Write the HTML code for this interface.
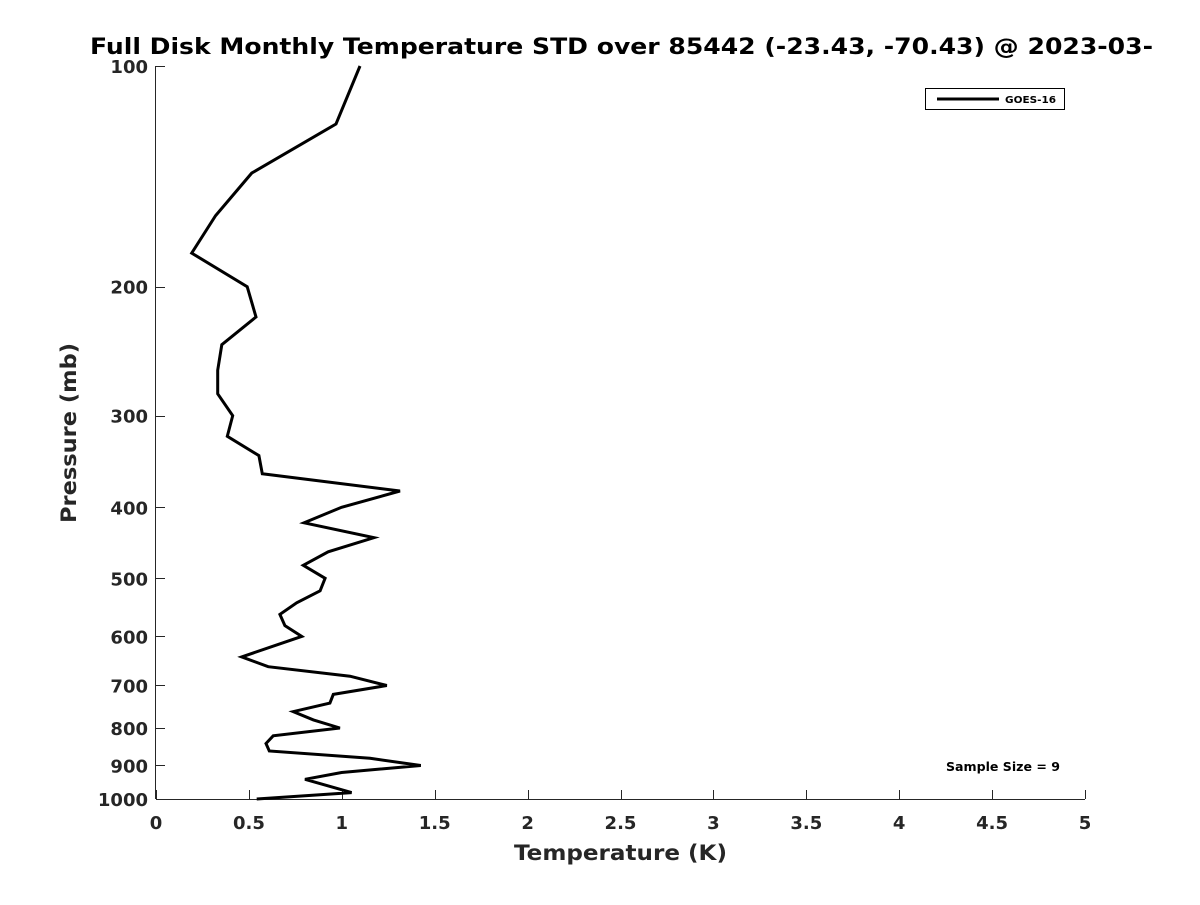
<!DOCTYPE html>
<html><head><meta charset="utf-8"><style>
body{margin:0;background:#fff;}
svg text{font-family:"DejaVu Sans","Liberation Sans",sans-serif;font-weight:bold;fill:#262626;}
</style></head><body>
<svg id="chart" width="1200" height="900" xmlns="http://www.w3.org/2000/svg">
<rect width="1200" height="900" fill="#fff"/>
<text x="90" y="54" textLength="1063" lengthAdjust="spacingAndGlyphs" font-size="22" style="fill:#000">Full Disk Monthly Temperature STD over 85442 (-23.43, -70.43) @ 2023-03-</text>
<g id="axes"></g>
<polyline id="series" fill="none" stroke="#000" stroke-width="3" stroke-linejoin="miter"/>
<g>
<rect x="925.5" y="88.5" width="139" height="21" fill="#fff" stroke="#000" stroke-width="1"/>
<line x1="937" y1="99" x2="999" y2="99" stroke="#000" stroke-width="3"/>
<text x="1005" y="103" textLength="51" lengthAdjust="spacingAndGlyphs" font-size="10" style="fill:#000">GOES-16</text>
</g>
<text x="946" y="771" textLength="114" lengthAdjust="spacingAndGlyphs" font-size="12" style="fill:#000">Sample Size = 9</text>
<text x="514" y="860" textLength="213" lengthAdjust="spacingAndGlyphs" font-size="21">Temperature (K)</text>
<text transform="translate(76,523) rotate(-90)" textLength="180" lengthAdjust="spacingAndGlyphs" font-size="21">Pressure (mb)</text>
</svg>
<script>
const pressures=[100,120,140,160,180,200,220,240,260,280,300,320,340,360,380,400,420,440,460,480,500,520,540,560,580,600,640,660,680,700,720,740,760,780,800,820,840,860,880,900,920,940,980,1000];
const stdValues=[1.098,0.969,0.515,0.321,0.192,0.491,0.538,0.354,0.332,0.332,0.413,0.384,0.554,0.572,1.313,0.999,0.797,1.173,0.927,0.793,0.910,0.883,0.757,0.667,0.694,0.784,0.461,0.604,1.044,1.242,0.954,0.936,0.739,0.847,0.990,0.631,0.592,0.610,1.152,1.425,0.999,0.802,1.053,0.542];
const xTicks=[0,0.5,1,1.5,2,2.5,3,3.5,4,4.5,5];
const xTickLabels=["0","0.5","1","1.5","2","2.5","3","3.5","4","4.5","5"];
const yTicks=[100,200,300,400,500,600,700,800,900,1000];
const yTickLabels=["100","200","300","400","500","600","700","800","900","1000"];
const X0=156,X1=1085,Y0=66,Y1=799;
function xs(t){return X0+(t-0)/(5-0)*(X1-X0);}
function ys(p){return Y0+(Math.log10(p)-2)/(3-2)*(Y1-Y0);}
const NS="http://www.w3.org/2000/svg";
const axes=document.getElementById('axes');
function mk(tag,attrs){const e=document.createElementNS(NS,tag);for(const k in attrs)e.setAttribute(k,attrs[k]);return e;}
const xaxis=mk('line',{x1:X0,y1:Y1+0.5,x2:X1,y2:Y1+0.5,stroke:'#262626','stroke-width':1});


axes.appendChild(xaxis);
const yaxis=mk('line',{x1:X0-0.5,y1:Y0,x2:X0-0.5,y2:Y1,stroke:'#262626','stroke-width':1});


axes.appendChild(yaxis);
xTicks.forEach((t,i)=>{
 const x=Math.round(xs(t))+0.5;
 const tk=mk('line',{x1:x,y1:Y1,x2:x,y2:Y1-9,stroke:'#262626','stroke-width':1});
 
 
 axes.appendChild(tk);
 const tl=mk('text',{x:xs(t),y:829,'text-anchor':'middle','font-size':18});
 
 
 tl.textContent=xTickLabels[i];axes.appendChild(tl);
});
yTicks.forEach((p,i)=>{
 const y=Math.round(ys(p))+0.5;
 const tk=mk('line',{x1:X0,y1:y,x2:X0+9,y2:y,stroke:'#262626','stroke-width':1});
 
 
 axes.appendChild(tk);
 const tl=mk('text',{x:148,y:ys(p)+7,'text-anchor':'end','font-size':18});
 
 
 tl.textContent=yTickLabels[i];axes.appendChild(tl);
});
document.getElementById('series').setAttribute('points',pressures.map((p,i)=>xs(stdValues[i]).toFixed(1)+','+ys(p).toFixed(1)).join(' '));
</script>
</body></html>
